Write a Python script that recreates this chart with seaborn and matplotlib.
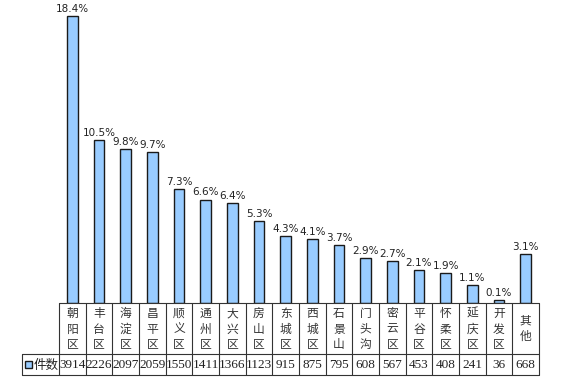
import matplotlib
matplotlib.use('Agg')
import matplotlib.pyplot as plt
import matplotlib.transforms as mtransforms
from matplotlib.lines import Line2D
from matplotlib.patches import Rectangle
import pandas as pd
import seaborn as sns

# data
districts = ['朝阳区', '丰台区', '海淀区', '昌平区', '顺义区', '通州区', '大兴区', '房山区', '东城区',
             '西城区', '石景山', '门头沟', '密云区', '平谷区', '怀柔区', '延庆区', '开发区', '其他']
counts = [3914, 2226, 2097, 2059, 1550, 1411, 1366, 1123, 915, 875, 795, 608, 567, 453, 408, 241, 36, 668]
shares = [18.4, 10.5, 9.8, 9.7, 7.3, 6.6, 6.4, 5.3, 4.3, 4.1, 3.7, 2.9, 2.7, 2.1, 1.9, 1.1, 0.1, 3.1]
series_name = '件数'

W, H = 571, 391
sns.set_style('white')
plt.rcParams['font.family'] = ['DejaVu Sans']
CJK = ['Noto Sans CJK SC', 'DejaVu Sans']
LINE = '#333333'


def fx(px):
    return px / W


def fy(py):
    return 1 - py / H


df = pd.DataFrame({'district': districts, 'count': counts})

fig = plt.figure(figsize=(W / 100, H / 100), dpi=100)
ax = fig.add_axes([fx(59), fy(303), fx(539) - fx(59), fy(9.7) - fy(303)])
sns.barplot(data=df, x='district', y='count', order=districts, color='#99CCFF', saturation=1,
            edgecolor='#1a1a1a', linewidth=1, width=0.41, ax=ax)
ax.set_xlim(-0.5, len(districts) - 0.5)
ax.set_ylim(0, 4000)
ax.set_xlabel('')
ax.set_ylabel('')
ax.set_xticks([])
ax.set_yticks([])
for sp in ax.spines.values():
    sp.set_visible(False)

# percentage labels above bars
for i, (c, s) in enumerate(zip(counts, shares)):
    ax.annotate(f'{s:.1f}%', (i, c), xytext=(0, 1.5), textcoords='offset points',
                ha='center', va='bottom', fontsize=7.5, color='#222222')

# data table under the chart
tr = mtransforms.blended_transform_factory(ax.transData, fig.transFigure)
for i, (name, c) in enumerate(zip(districts, counts)):
    ax.text(i, fy(329), '\n'.join(name), transform=tr, ha='center', va='center',
            fontsize=8.5, family=CJK, linespacing=1.25, color='#333333')
    ax.text(i, fy(365), str(c), transform=tr, ha='center', va='center',
            fontsize=9.5, family='Liberation Serif', color='#222222')


def hline(y, x0, x1):
    fig.add_artist(Line2D([fx(x0), fx(x1)], [fy(y), fy(y)], transform=fig.transFigure,
                          color=LINE, lw=0.8))


def vline(x, y0, y1):
    fig.add_artist(Line2D([fx(x), fx(x)], [fy(y0), fy(y1)], transform=fig.transFigure,
                          color=LINE, lw=0.8))


col_w = (539 - 59) / len(districts)
hline(303, 59, 539)
hline(354, 22, 539)
hline(375, 22, 539)
vline(22, 354, 375)
for k in range(len(districts) + 1):
    vline(59 + k * col_w, 303, 375)

# legend key in the table
fig.add_artist(Rectangle((fx(25), fy(368)), fx(7), 7 / H, transform=fig.transFigure,
                         facecolor='#99CCFF', edgecolor='#1a1a1a', lw=1))
fig.text(fx(34), fy(365), series_name, ha='left', va='center', fontsize=9, family=CJK,
         color='#222222')

fig.savefig('out.png', dpi=100)
